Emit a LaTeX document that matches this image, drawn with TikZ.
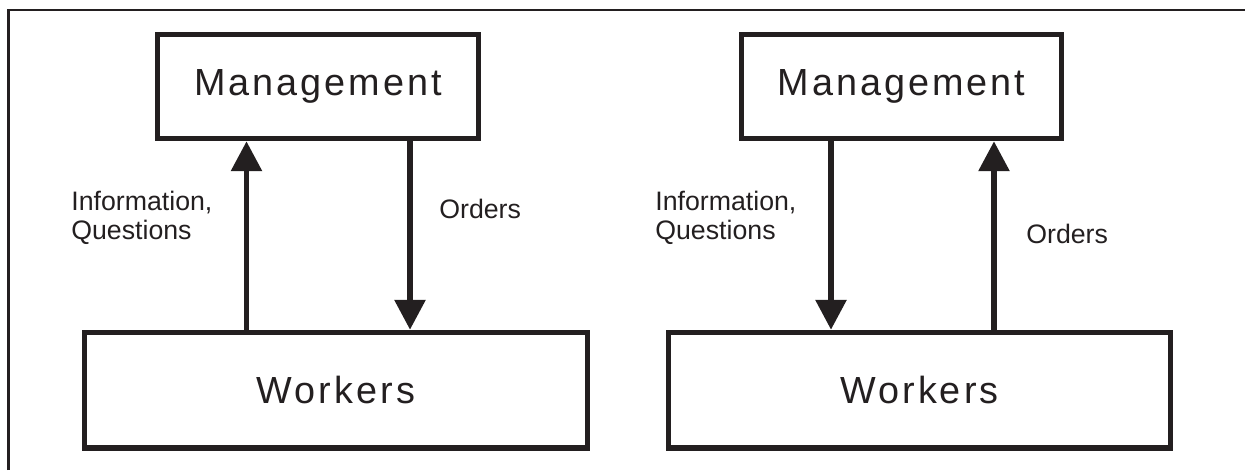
\documentclass[tikz,border=0pt]{standalone}
\usepackage{fontspec}
\setmainfont{Liberation Sans}
\newfontfamily\boxfont{Liberation Sans}[LetterSpace=8]
\usetikzlibrary{arrows.meta,calc}
\definecolor{ink}{RGB}{35,31,32}

\begin{document}
\begin{tikzpicture}[
    box/.style={draw=ink, text=ink, line width=3.1pt, minimum width=6.41cm, minimum height=2.08cm,
        inner sep=0pt, font=\boxfont\fontsize{21.5}{25}\selectfont},
    wide/.style={box, minimum width=10.05cm, minimum height=2.31cm},
    flow/.style={draw=ink, line width=3.4pt, -{Triangle[length=0.6cm,width=0.6cm]}},
    lbl/.style={inner sep=0pt, align=left, text=ink, font=\fontsize{15.2}{16.5}\selectfont}
]
    \useasboundingbox (0,0) rectangle (24.9,-9.4);

    % Frame (top and left edges)
    \coordinate (f1) at (0.174,-9.4);
    \coordinate (f2) at (0.174,-0.2);
    \coordinate (f3) at (24.9,-0.2);
    \draw[ink, line width=1.5pt] (f1) -- (f2) -- (f3);

    % Left diagram
    \node[box]  (mgmtL) at (6.36,-1.73)  {Management};
    \node[wide] (wrkL)  at (6.72,-7.805) {Workers};
    \coordinate (upL) at ([xshift=-1.43cm]mgmtL.south);
    \coordinate (dnL) at ([xshift=1.84cm]mgmtL.south);
    \draw[flow] (wrkL.north -| upL) -- (upL);
    \draw[flow] (dnL) -- (wrkL.north -| dnL);
    \node[lbl, anchor=west]      (infoL)  at (1.42,-4.354) {Information,\\Questions};
    \node[lbl, anchor=base west] (orderL) at (8.78,-4.36)  {Orders};

    % Right diagram
    \node[box]  (mgmtR) at (18.03,-1.73)  {Management};
    \node[wide] (wrkR)  at (18.39,-7.805) {Workers};
    \coordinate (dnR) at ([xshift=-1.41cm]mgmtR.south);
    \coordinate (upR) at ([xshift=1.85cm]mgmtR.south);
    \draw[flow] (dnR) -- (wrkR.north -| dnR);
    \draw[flow] (wrkR.north -| upR) -- (upR);
    \node[lbl, anchor=west]      (infoR)  at (13.1,-4.354) {Information,\\Questions};
    \node[lbl, anchor=base west] (orderR) at (20.52,-4.866) {Orders};
\end{tikzpicture}
\end{document}
